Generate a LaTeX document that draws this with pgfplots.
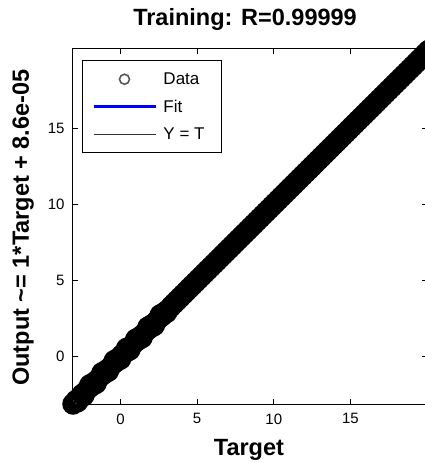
\documentclass[border=0pt]{standalone}
\usepackage{pgfplots}
\pgfplotsset{compat=1.18}
\usepackage{fontspec}
\setmainfont{Liberation Sans}
\pgfplotstableread{
x y
-3.1 -3.1
-2.9 -2.87
-2.7 -2.73
-2.5 -2.47
-2.3 -2.33
-2.1 -2.07
-1.9 -1.93
-1.7 -1.67
-1.5 -1.53
-1.3 -1.27
-1.1 -1.13
-0.9 -0.87
-0.7 -0.73
-0.5 -0.47
-0.3 -0.33
-0.1 -0.07
0.1 0.13
0.3 0.27
0.5 0.53
0.7 0.67
0.9 0.93
1.1 1.07
1.3 1.33
1.5 1.47
1.7 1.73
1.9 1.87
2.1 2.13
2.3 2.27
2.5 2.53
2.7 2.67
2.9 2.93
3.1 3.07
3.3 3.3
3.5 3.5
3.7 3.7
3.9 3.9
4.1 4.1
4.3 4.3
4.5 4.5
4.7 4.7
4.9 4.9
5.1 5.1
5.3 5.3
5.5 5.5
5.7 5.7
5.9 5.9
6.1 6.1
6.3 6.3
6.5 6.5
6.7 6.7
6.9 6.9
7.1 7.1
7.3 7.3
7.5 7.5
7.7 7.7
7.9 7.9
8.1 8.1
8.3 8.3
8.5 8.5
8.7 8.7
8.9 8.9
9.1 9.1
9.3 9.3
9.5 9.5
9.7 9.7
9.9 9.9
10.1 10.1
10.3 10.3
10.5 10.5
10.7 10.7
10.9 10.9
11.1 11.1
11.3 11.3
11.5 11.5
11.7 11.7
11.9 11.9
12.1 12.1
12.3 12.3
12.5 12.5
12.7 12.7
12.9 12.9
13.1 13.1
13.3 13.3
13.5 13.5
13.7 13.7
13.9 13.9
14.1 14.1
14.3 14.3
14.5 14.5
14.7 14.7
14.9 14.9
15.1 15.1
15.3 15.3
15.5 15.5
15.7 15.7
15.9 15.9
16.1 16.1
16.3 16.3
16.5 16.5
16.7 16.7
16.9 16.9
17.1 17.1
17.3 17.3
17.5 17.5
17.7 17.7
17.9 17.9
18.1 18.1
18.3 18.3
18.5 18.5
18.7 18.7
18.9 18.9
19.1 19.1
19.3 19.3
19.5 19.5
19.7 19.7
19.9 19.9
20.1 20.1
-2.8 -2.95
-2.4 -2.55
-2.0 -1.85
-1.6 -1.75
-1.2 -1.05
-0.8 -0.95
-0.4 -0.25
0.0 -0.15
0.4 0.55
0.6 0.45
1.0 1.15
1.4 1.25
1.8 1.95
2.2 2.05
2.6 2.75
3.0 2.9
}\datatable
\begin{document}
\begin{tikzpicture}
\begin{axis}[
  at={(0pt,0pt)}, anchor=south west,
  width=354pt, height=355pt, scale only axis,
  xmin=-3.1, xmax=20.0, ymin=-3.1, ymax=20.2,
  xtick={0,5,10,15}, ytick={0,5,10,15},
  tick align=inside, major tick length=5pt,
  tick style={black, line width=0.8pt},
  axis line style={black, line width=1pt},
  clip=false,
  /pgf/number format/assume math mode=true,
  ticklabel style={font=\fontsize{15}{15}\selectfont},
  xticklabel style={yshift=-6pt},
  yticklabel style={xshift=-5pt},
  title={Training: R=0.99999},
  title style={at={(axis description cs:0.486,1.0479)}, anchor=base, font=\fontsize{23.5}{28}\selectfont\bfseries, inner sep=0pt},
  xlabel={Target},
  xlabel style={at={(axis description cs:0.497,-0.1437)}, anchor=base, font=\fontsize{23.5}{28}\selectfont\bfseries, inner sep=0pt},
  ylabel={Output \textasciitilde= 1*Target + 8.6e-05},
  ylabel style={at={(axis description cs:-0.1243,0.497)}, anchor=base, font=\fontsize{23.5}{28}\selectfont\bfseries, inner sep=0pt},
  legend style={at={(axis description cs:0,1)}, anchor=north west, xshift=9pt, yshift=-11pt,
    draw=black, line width=1pt, fill=white, inner xsep=0pt, inner ysep=5pt,
    font=\fontsize{17}{17}\selectfont, row sep=0pt, column sep=0pt,
    nodes={inner sep=0pt}, cells={anchor=west}},
]
\addlegendimage{legend image code/.code={\path[draw=none, fill=none] (-11pt,-13.75pt) rectangle (70pt,13.75pt); \draw[black!65, line width=1.6pt, fill=none] (31pt,0pt) circle (5pt);}}
\addlegendentry{\makebox[58pt][l]{Data}}
\addlegendimage{legend image code/.code={\path[draw=none, fill=none] (-11pt,-13.75pt) rectangle (70pt,13.75pt); \draw[blue, line width=2.5pt] (0pt,0pt) -- (62pt,0pt);}}
\addlegendentry{\makebox[58pt][l]{Fit}}
\addlegendimage{legend image code/.code={\path[draw=none, fill=none] (-11pt,-13.75pt) rectangle (70pt,13.75pt); \draw[black!80, line width=1pt] (0pt,0pt) -- (62pt,0pt);}}
\addlegendentry{\makebox[58pt][l]{Y = T}}
\addplot[black!80, line width=1pt, forget plot] coordinates {(-3.1,-3.1) (20.0,20.0)};
\addplot[blue, line width=2pt, forget plot] coordinates {(-3.1,-3.1) (20.0,20.0)};
\addplot[only marks, mark=o, mark size=8.5pt, line width=4.5pt, black, forget plot] table[x=x, y=y] {\datatable};
\end{axis}
\pgfresetboundingbox
\path (-73pt,-59pt) rectangle (352pt,404pt);
\end{tikzpicture}
\end{document}
